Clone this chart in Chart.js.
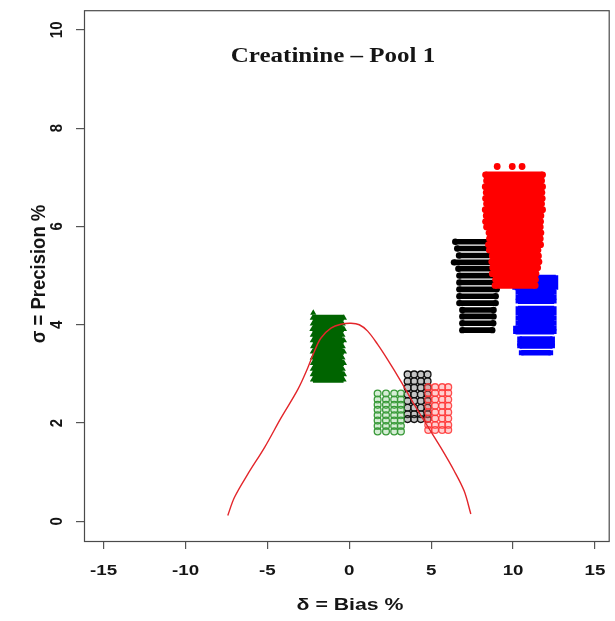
<!DOCTYPE html>
<html>
<head>
<meta charset="utf-8">
<script src="https://cdn.jsdelivr.net/npm/chart.js@4/dist/chart.umd.min.js"></script>
<style>
  html, body { margin: 0; padding: 0; background: #ffffff; }
  #wrap { width: 615px; height: 621px; }
</style>
</head>
<body>
<div id="wrap"><canvas id="c" width="615" height="621"></canvas></div>
<script>
// Axis ticks
const xTickValues = [-15, -10, -5, 0, 5, 10, 15];
const yTickValues = [0, 2, 4, 6, 8, 10];

// Large clusters: each row of markers as y, first x, last x
const greenBigY    = [4.24, 4.14, 4.02, 3.91, 3.79, 3.68, 3.56, 3.45, 3.33, 3.22, 3.10, 2.99, 2.88];
const greenBigFrom = [-2.20, -2.23, -2.23, -2.25, -2.23, -2.23, -2.21, -2.23, -2.23, -2.22, -2.23, -2.23, -2.22];
const greenBigTo   = [-2.20, -0.33, -0.40, -0.33, -0.42, -0.33, -0.40, -0.33, -0.42, -0.33, -0.40, -0.33, -0.35];

const blackBigY    = [5.69, 5.55, 5.41, 5.27, 5.14, 5.00, 4.86, 4.72, 4.58, 4.44, 4.30, 4.17, 4.03, 3.89];
const blackBigFrom = [6.47, 6.59, 6.70, 6.39, 6.66, 6.72, 6.72, 6.72, 6.72, 6.72, 6.90, 6.90, 6.90, 6.90];
const blackBigTo   = [9.20, 9.20, 9.20, 9.20, 9.20, 9.20, 9.20, 9.00, 8.94, 8.94, 8.81, 8.81, 8.79, 8.73];

const redBigY    = [7.22, 7.22, 7.22, 7.05, 6.93, 6.81, 6.69, 6.57, 6.46, 6.34, 6.22, 6.10, 5.99, 5.87, 5.75, 5.63, 5.52, 5.40, 5.28, 5.16, 5.04, 4.92, 4.80];
const redBigFrom = [9.03, 9.95, 10.55, 8.32, 8.38, 8.30, 8.36, 8.32, 8.38, 8.30, 8.36, 8.32, 8.38, 8.53, 8.56, 8.50, 8.55, 8.73, 8.70, 8.76, 8.73, 8.93, 8.90];
const redBigTo   = [9.03, 9.95, 10.55, 11.80, 11.74, 11.80, 11.76, 11.78, 11.74, 11.80, 11.70, 11.68, 11.66, 11.70, 11.66, 11.68, 11.52, 11.55, 11.58, 11.50, 11.40, 11.37, 11.35];

const blueY    = [4.96, 4.86, 4.76, 4.66, 4.56, 4.48, 4.33, 4.23, 4.13, 4.03, 3.93, 3.86, 3.71, 3.62, 3.57, 3.43];
const blueFrom = [10.08, 10.08, 10.10, 10.30, 10.30, 10.30, 10.30, 10.30, 10.30, 10.30, 10.15, 10.15, 10.40, 10.40, 10.40, 10.50];
const blueTo   = [12.61, 12.61, 12.61, 12.51, 12.51, 12.51, 12.51, 12.51, 12.51, 12.51, 12.51, 12.51, 12.41, 12.41, 12.41, 12.30];

// Small clusters: marker columns (bias) and rows (precision)
const greenSmallX = [1.73, 2.24, 2.74, 3.15];
const greenSmallY = [2.60, 2.48, 2.37, 2.27, 2.16, 2.05, 1.94, 1.83];
const blackSmallX = [3.56, 3.96, 4.37, 4.78];
const blackSmallY = [2.99, 2.85, 2.72, 2.58, 2.45, 2.31, 2.18, 2.08];
const redSmallX   = [4.82, 5.24, 5.67, 6.04];
const redSmallY   = [2.73, 2.61, 2.48, 2.35, 2.22, 2.09, 1.96, 1.86];

// Boundary curve
const curveX = [-7.42, -7.01, -6.20, -5.18, -4.16, -3.15, -2.54, -2.13, -1.73, -1.12, -0.51, 0.10, 0.61, 1.12, 1.73, 2.34, 3.15, 3.96, 4.77, 5.59, 6.40, 7.01, 7.42];
const curveY = [0.12, 0.49, 0.96, 1.50, 2.11, 2.68, 3.12, 3.46, 3.73, 3.93, 4.01, 4.03, 4.00, 3.87, 3.60, 3.29, 2.85, 2.38, 1.94, 1.50, 1.03, 0.62, 0.15];

function rowsData(ys, from, to) {
  const out = [];
  ys.forEach((y, i) => {
    out.push({ x: from[i], y: y });
    if (to[i] !== from[i]) out.push({ x: to[i], y: y });
    out.push({ x: to[i], y: null });
  });
  return out;
}
function gridData(xs, ys) {
  const out = [];
  ys.forEach(y => xs.forEach(x => out.push({ x: x, y: y })));
  return out;
}

const datasets = [
  { label: 'curve', data: curveX.map((x, i) => ({ x: x, y: curveY[i] })), showLine: true,
    borderColor: '#e3262b', borderWidth: 1.4, pointRadius: 0, tension: 0.35, order: 0 },
  { label: 'red small', data: gridData(redSmallX, redSmallY), pointStyle: 'circle', pointRadius: 3.4,
    pointBorderWidth: 1.3, borderColor: 'rgba(255,50,50,0.85)', backgroundColor: 'rgba(255,120,120,0.35)', order: 1 },
  { label: 'green small', data: gridData(greenSmallX, greenSmallY), pointStyle: 'circle', pointRadius: 3.4,
    pointBorderWidth: 1.3, borderColor: '#3a9a3a', backgroundColor: 'rgba(120,200,120,0.3)', order: 2 },
  { label: 'black small', data: gridData(blackSmallX, blackSmallY), pointStyle: 'circle', pointRadius: 3.4,
    pointBorderWidth: 1.3, borderColor: '#111111', backgroundColor: 'rgba(90,90,90,0.35)', order: 3 },
  { label: 'green big', data: rowsData(greenBigY, greenBigFrom, greenBigTo), showLine: true, spanGaps: false,
    borderColor: '#006400', backgroundColor: '#006400', borderWidth: 6, borderCapStyle: 'butt',
    pointStyle: 'triangle', pointRadius: 3.6, pointBorderWidth: 0, order: 4 },
  { label: 'red big', data: rowsData(redBigY, redBigFrom, redBigTo), showLine: true, spanGaps: false,
    borderColor: '#ff0000', backgroundColor: '#ff0000', borderWidth: 6.5, borderCapStyle: 'butt',
    pointStyle: 'circle', pointRadius: 3.4, pointBorderWidth: 0, order: 5 },
  { label: 'blue', data: rowsData(blueY, blueFrom, blueTo), showLine: true, spanGaps: false,
    borderColor: '#0000ff', backgroundColor: '#0000ff', borderWidth: 5.6, borderCapStyle: 'butt',
    pointStyle: 'rect', pointRadius: 3.4, pointBorderWidth: 0, order: 6 },
  { label: 'black big', data: rowsData(blackBigY, blackBigFrom, blackBigTo), showLine: true, spanGaps: false,
    borderColor: '#000000', backgroundColor: '#000000', borderWidth: 5.6, borderCapStyle: 'butt',
    pointStyle: 'circle', pointRadius: 3.2, pointBorderWidth: 0, order: 7 }
];

// Text is drawn slightly widened, as in the original figure
function wideText(ctx, text, x, y, font, rot, stretch) {
  ctx.save();
  ctx.font = font;
  ctx.fillStyle = '#151515';
  ctx.textAlign = 'center';
  ctx.textBaseline = 'middle';
  ctx.translate(x, y);
  ctx.scale(stretch, 1);
  if (rot) ctx.rotate(rot);
  ctx.fillText(text, 0, 0);
  ctx.restore();
}

const decorations = {
  id: 'decorations',
  afterDraw(chart) {
    const ctx = chart.ctx;
    const a = chart.chartArea;
    const xs = chart.scales.x, ys = chart.scales.y;
    // plot box
    ctx.save();
    ctx.strokeStyle = '#4a4a4a';
    ctx.lineWidth = 1.2;
    ctx.strokeRect(a.left + 0.5, a.top + 0.5, a.right - a.left - 1, a.bottom - a.top);
    ctx.restore();
    // tick labels
    const tickFont = 'bold 15px "Liberation Sans", Arial, sans-serif';
    xTickValues.forEach(v => wideText(ctx, String(v), xs.getPixelForValue(v), 571, tickFont, 0, 1.25));
    yTickValues.forEach(v => wideText(ctx, String(v), 57, ys.getPixelForValue(v), tickFont, -Math.PI / 2, 1.1));
    // axis titles
    wideText(ctx, 'δ = Bias %', 350, 605, 'bold 17px "Liberation Sans", Arial, sans-serif', 0, 1.25);
    wideText(ctx, 'σ = Precision %', 40, 274, 'bold 18.5px "Liberation Sans", Arial, sans-serif', -Math.PI / 2, 1.05);
    // panel title
    wideText(ctx, 'Creatinine – Pool 1', 333, 57, 'bold 20px "Liberation Serif", "Times New Roman", serif', 0, 1.25);
  }
};

new Chart(document.getElementById('c'), {
  type: 'scatter',
  data: { datasets: datasets },
  options: {
    responsive: false,
    animation: false,
    layout: { padding: { top: 8, right: 4, left: 0, bottom: 0 } },
    plugins: { legend: { display: false }, tooltip: { enabled: false } },
    scales: {
      x: {
        type: 'linear', min: -16.2, max: 15.9,
        afterBuildTicks: s => { s.ticks = xTickValues.map(v => ({ value: v })); },
        afterFit: s => { s.height = 80; },
        ticks: { callback: () => '' },
        grid: { drawOnChartArea: false, tickLength: 8, color: '#555555', lineWidth: 1.2 },
        border: { display: false }
      },
      y: {
        type: 'linear', min: -0.4, max: 10.4,
        afterBuildTicks: s => { s.ticks = yTickValues.map(v => ({ value: v })); },
        afterFit: s => { s.width = 84; },
        ticks: { callback: () => '' },
        grid: { drawOnChartArea: false, tickLength: 8, color: '#555555', lineWidth: 1.2 },
        border: { display: false }
      }
    }
  },
  plugins: [decorations]
});
</script>
</body>
</html>
